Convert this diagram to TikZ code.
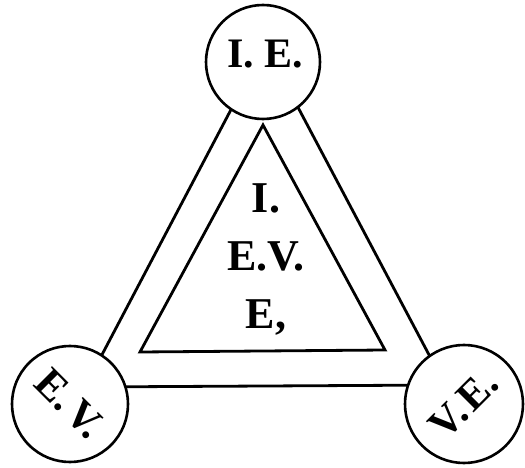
\documentclass[tikz,border=0pt]{standalone}
\usepackage{fontspec}
\setmainfont{Liberation Serif}
\begin{document}
\begin{tikzpicture}[x=1pt,y=-1pt,
  band/.style={line width=2.8pt, line join=miter},
  ring/.style={circle, draw, line width=2.6pt, fill=white, inner sep=0pt},
  word/.style={font=\fontsize{44}{58}\selectfont\bfseries, inner sep=0pt},
  smallword/.style={font=\fontsize{42}{46}\selectfont\bfseries}]
\useasboundingbox (0,0) rectangle (525,468);
% outer triangle corners
\coordinate (oA) at (265,45);
\coordinate (oB) at (85,387);
\coordinate (oC) at (445,385);
% inner triangle corners
\coordinate (iA) at (263,125);
\coordinate (iB) at (140,352);
\coordinate (iC) at (385,350);
\draw[band] (oA) -- (oB) -- (oC) -- cycle;
\draw[band] (iA) -- (iB) -- (iC) -- cycle;
% vertex circles
\node[ring, minimum size=114pt] (ie) at (263,62) {};
\node[ring, smallword, minimum size=116pt, rotate=-45] (ev) at (70,404) {E.\kern4pt V.};
\node[ring, smallword, minimum size=118pt, rotate=45] (ve) at (464,404) {V.\kern4pt E.};
% labels
\node[word, font=\fontsize{42}{58}\selectfont\bfseries] (tie) at (265,54) {I. E.};
\node[word, align=center] (mid) at (266,259) {I.\\E.V.\\E,};
\end{tikzpicture}
\end{document}
